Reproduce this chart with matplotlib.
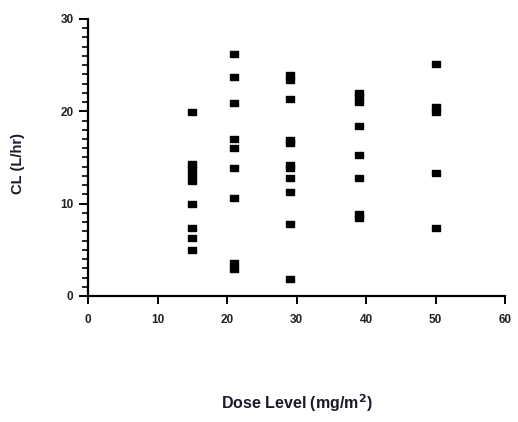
import numpy as np
import matplotlib.pyplot as plt
from matplotlib.ticker import MultipleLocator

# dose level (mg/m^2) and clearance (L/hr) per patient
dose_15 = [19.9, 14.3, 13.7, 13.1, 12.5, 10.0, 7.4, 6.3, 5.0]
dose_21 = [26.2, 23.7, 20.9, 17.0, 16.0, 13.9, 10.6, 3.6, 2.9]
dose_29 = [23.9, 23.4, 21.3, 16.9, 16.6, 14.2, 13.9, 12.8, 11.3, 7.8, 1.8]
dose_39 = [22.0, 21.5, 21.0, 18.4, 15.3, 12.8, 8.9, 8.5]
dose_50 = [25.1, 20.5, 19.9, 13.3, 7.4]

groups = {15: dose_15, 21: dose_21, 29: dose_29, 39: dose_39, 50: dose_50}

plt.rcParams['font.family'] = ['Liberation Sans', 'DejaVu Sans']

fig = plt.figure(figsize=(5.18, 4.22), dpi=100)
ax = fig.add_axes([0.170, 0.2986, 0.805, 0.6564])

# slightly flat square, like the original
box = [(-1, -0.8), (1, -0.8), (1, 0.8), (-1, 0.8), (-1, -0.8)]
for dose, cl in groups.items():
    ax.plot(np.full(len(cl), dose), cl, linestyle='none', marker=box,
            markersize=5.9, color='black')

ax.set_xlim(0, 60)
ax.set_ylim(0, 30)
ax.set_xticks(np.arange(0, 61, 10))
ax.set_yticks([0, 10, 20, 30])
ax.yaxis.set_minor_locator(MultipleLocator(1))

for side in ['top', 'right']:
    ax.spines[side].set_visible(False)
for side in ['left', 'bottom']:
    ax.spines[side].set_linewidth(1.6)
    ax.spines[side].set_color('black')

ax.tick_params(which='major', direction='out', width=1.4,
               labelsize=8.5, colors='black', labelcolor='#222222')
ax.tick_params(axis='x', which='major', length=6, pad=7)
ax.tick_params(axis='y', which='major', length=6.5, pad=4)
ax.tick_params(which='minor', direction='out', length=4, width=1.2)
for lbl in ax.get_xticklabels() + ax.get_yticklabels():
    lbl.set_fontweight('bold')

ax.set_xlabel('Dose Level (mg/m$^\\mathbf{2}$)', fontsize=11.5, fontweight='bold',
              color='#1a1a2a')
ax.xaxis.set_label_coords(0.5, -0.347)
ax.set_ylabel('CL (L/hr)', fontsize=10.5, fontweight='bold', color='#1a1a2a')
ax.yaxis.set_label_coords(-0.151, 0.48)

fig.savefig('out.png', dpi=100)
